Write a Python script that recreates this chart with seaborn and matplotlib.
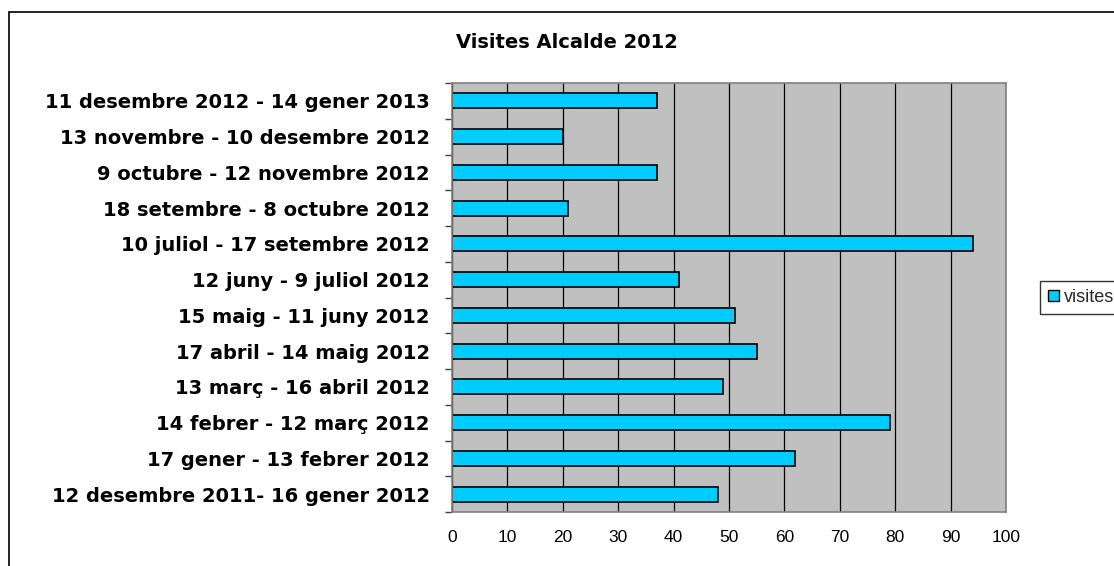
import matplotlib
matplotlib.use("Agg")
import matplotlib.pyplot as plt
import matplotlib.patches as mpatches
import seaborn as sns
import pandas as pd

# periods (top to bottom as shown)
periods = [
    "11 desembre 2012 - 14 gener 2013",
    "13 novembre - 10 desembre 2012",
    "9 octubre - 12 novembre 2012",
    "18 setembre - 8 octubre 2012",
    "10 juliol - 17 setembre 2012",
    "12 juny - 9 juliol 2012",
    "15 maig - 11 juny 2012",
    "17 abril - 14 maig 2012",
    "13 març - 16 abril 2012",
    "14 febrer - 12 març 2012",
    "17 gener - 13 febrer 2012",
    "12 desembre 2011- 16 gener 2012",
]
visites = [37, 20, 37, 21, 94, 41, 51, 55, 49, 79, 62, 48]

df = pd.DataFrame({"periode": periods, "visites": visites})

sns.set_style("white")
plt.rcParams["font.family"] = ["DejaVu Sans"]

fig = plt.figure(figsize=(11.14, 5.66), dpi=100)
ax = fig.add_axes([452 / 1114, 1 - 512 / 566, (1006 - 452) / 1114, (512 - 83) / 566])

sns.barplot(data=df, x="visites", y="periode", orient="h", color="#00CCFF",
            edgecolor="black", linewidth=1.2, width=0.42, saturation=1, ax=ax)

ax.set_facecolor("#C0C0C0")
ax.set_xlim(0, 100)
ax.set_xticks(range(0, 101, 10))
ax.xaxis.grid(True, color="black", linewidth=0.9)
ax.set_axisbelow(True)
for s in ax.spines.values():
    s.set_color("#808080")
    s.set_linewidth(1.2)
ax.set_xlabel("")
ax.set_ylabel("")
ax.tick_params(axis="x", length=5, width=1, color="#404040", labelsize=12.5,
               pad=8, labelcolor="black")
ax.tick_params(axis="y", labelsize=14, pad=16, labelcolor="black")
for lab in ax.get_xticklabels():
    lab.set_fontfamily("Liberation Sans")
for lab in ax.get_yticklabels():
    lab.set_fontweight("bold")

# y tick marks between categories, like Excel
ax.set_yticks([i - 0.5 for i in range(len(periods) + 1)], minor=True)
ax.tick_params(axis="y", which="major", length=0)
ax.tick_params(axis="y", which="minor", length=5, width=1, color="#404040", left=True)

fig.text(567 / 1114, 1 - 42 / 566, "Visites Alcalde 2012", ha="center", va="center",
         fontsize=14, fontweight="bold", color="black")

# outer chart frame
fig.patches.append(mpatches.Rectangle((9 / 1114, -0.1), 1.2, 1 - 12 / 566 + 0.1,
                                      transform=fig.transFigure, fill=False,
                                      edgecolor="black", linewidth=1.2))

handle = mpatches.Patch(facecolor="#00CCFF", edgecolor="black", linewidth=1)
leg = fig.legend([handle], ["visites"], loc="upper left",
                 bbox_to_anchor=(1040 / 1114, 1 - 281 / 566), frameon=True,
                 fancybox=False, handlelength=0.6, handleheight=0.6,
                 handletextpad=0.25, borderpad=0.45, borderaxespad=0,
                 prop={"family": "Liberation Sans", "size": 13})
leg.get_frame().set_edgecolor("black")
leg.get_frame().set_linewidth(1)

fig.savefig("out.png", dpi=100)
